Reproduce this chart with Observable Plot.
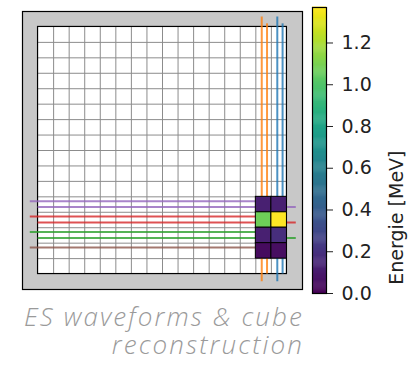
<!DOCTYPE html>
<html>
<head>
<meta charset="utf-8">
<script src="https://cdn.jsdelivr.net/npm/d3@7"></script>
<script src="https://cdn.jsdelivr.net/npm/@observablehq/plot@0.6"></script>
<style>
  html, body { margin: 0; padding: 0; background: #fff; }
  #wrap { position: relative; width: 408px; height: 373px; overflow: hidden; }
  #main { position: absolute; left: 0; top: 0; }
  #cbar { position: absolute; left: 300px; top: 0; }
  #caption {
    position: absolute; left: 0; top: 302px; width: 304px;
    text-align: right; font-family: "Open Sans", sans-serif; font-style: italic;
    font-weight: 300; font-size: 26px; line-height: 28px; letter-spacing: 2.1px; color: #9a9a9a;
  }
</style>
</head>
<body>
<div id="wrap">
  <div id="main"></div>
  <div id="cbar"></div>
  <div id="caption">ES waveforms &amp; cube<br>reconstruction</div>
</div>
<script>
// ---- data ----
const gridSize = 16;
const cellCols = [14, 15, 14, 15, 14, 15, 14, 15];
const cellRows = [11, 11, 12, 12, 13, 13, 14, 14];
const cellEnergy = [0.12, 0.12, 1.07, 1.37, 0.12, 0.18, 0.04, 0.05];
const energyMax = 1.37;
const colorbarTicks = [0, 0.2, 0.4, 0.6, 0.8, 1.0, 1.2];
const colorbarLabel = "Energie [MeV]";
const fiberRows = [11, 12, 13, 14];
const fiberRowCounts = [2, 2, 2, 1];
const fiberRowColors = ["#9467bd", "#d62728", "#2ca02c", "#8c564b"];
const fiberCols = [14, 15];
const fiberColColors = ["#ff7f0e", "#1f77b4"];

const cells = cellCols.map((c, i) => ({col: c, row: cellRows[i], energy: cellEnergy[i]}));
const colorScale = {type: "linear", scheme: "viridis", domain: [0, energyMax]};

const marks = [
  Plot.frame({fill: "#c8c8c8", stroke: "black", strokeWidth: 1.2}),
  Plot.rect([0], {x1: 0, x2: gridSize, y1: 0, y2: gridSize, fill: "white"}),
  Plot.ruleX(d3.range(1, gridSize), {y1: 0, y2: gridSize, stroke: "#8c8c8c", strokeWidth: 1}),
  Plot.ruleY(d3.range(1, gridSize), {x1: 0, x2: gridSize, stroke: "#8c8c8c", strokeWidth: 1}),
  Plot.rect([0], {x1: 0, x2: gridSize, y1: 0, y2: gridSize, fill: "none", stroke: "black", strokeWidth: 1.2})
];
fiberRows.forEach((r, i) => {
  marks.push(Plot.ruleY([r + 0.28], {x1: -0.5, x2: 14, stroke: fiberRowColors[i], strokeWidth: 2, strokeOpacity: 0.8}));
  if (fiberRowCounts[i] > 1)
    marks.push(Plot.ruleY([r + 0.66], {x1: 0, x2: 16.6, stroke: fiberRowColors[i], strokeWidth: 2, strokeOpacity: 0.8}));
});
fiberCols.forEach((c, i) => {
  marks.push(Plot.ruleX([c + 0.38], {y1: -0.65, y2: 16.5, stroke: fiberColColors[i], strokeWidth: 2, strokeOpacity: 0.8}));
  marks.push(Plot.ruleX([c + 0.72], {y1: -0.2, y2: 16.0, stroke: fiberColColors[i], strokeWidth: 2, strokeOpacity: 0.8}));
});
marks.push(Plot.rect(cells, {
  x1: "col", x2: d => d.col + 1, y1: "row", y2: d => d.row + 1,
  fill: "energy", stroke: "black", strokeWidth: 1
}));

const main = Plot.plot({
  width: 310, height: 300,
  marginLeft: 22, marginRight: 8, marginTop: 11, marginBottom: 11,
  x: {domain: [-1, gridSize + 1], axis: null},
  y: {domain: [-1, gridSize + 1], reverse: true, axis: null},
  color: colorScale,
  marks
});
document.getElementById("main").appendChild(main);

// colorbar
const ramp = d3.range(0, Math.round(energyMax * 200)).map(i => i / 200);
const cbar = Plot.plot({
  width: 108, height: 315,
  marginLeft: 12, marginRight: 82, marginTop: 7, marginBottom: 22,
  style: {fontFamily: "DejaVu Sans", fontSize: "19px", color: "#222", background: "transparent"},
  x: {domain: [0, 1], axis: null},
  y: {domain: [0, energyMax], axis: "right", ticks: colorbarTicks, tickFormat: d => d.toFixed(1),
      tickSize: 6, tickPadding: 9, label: null},
  color: colorScale,
  marks: [
    Plot.rect(ramp, {x1: 0, x2: 1, y1: d => d, y2: d => d + 0.007, fill: d => d}),
    Plot.frame({stroke: "black", strokeWidth: 1.2}),
    Plot.text([colorbarLabel], {text: d => d, frameAnchor: "right", dx: 70, rotate: -90, fontSize: 19, fill: "#222"})
  ]
});
document.getElementById("cbar").appendChild(cbar);
</script>
</body>
</html>
